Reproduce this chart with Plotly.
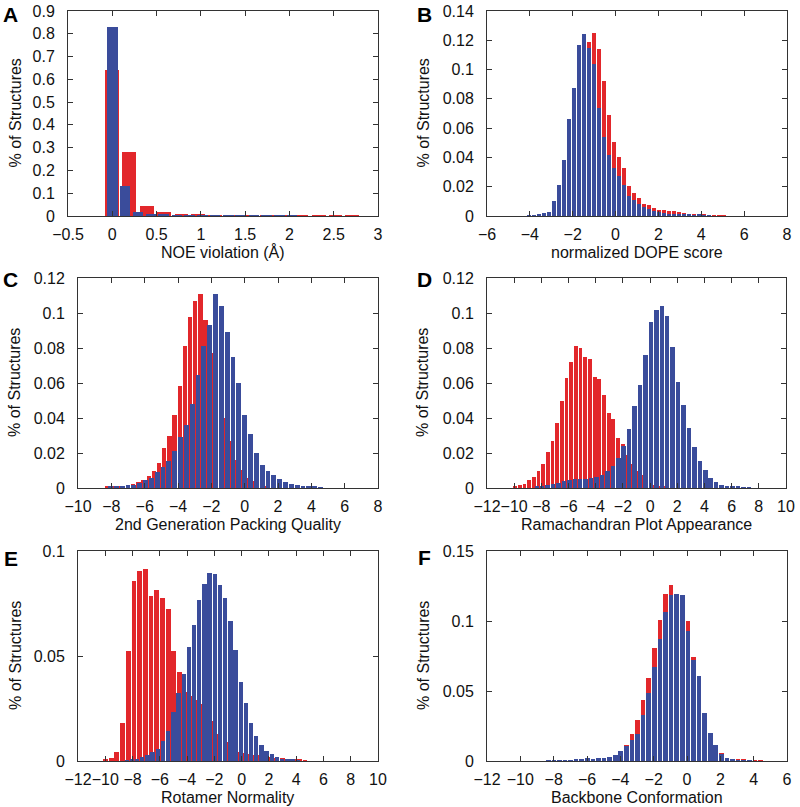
import plotly.graph_objects as go

# ---------------- data ----------------
# Panel A: NOE violation
a_red_x = [0.0, 0.19, 0.39, 0.58, 0.78, 0.97, 1.16, 1.36, 1.55, 1.75, 1.94, 2.13, 2.33, 2.52, 2.71]
a_red_y = [0.64, 0.28, 0.045, 0.017, 0.009, 0.006, 0.004, 0.003, 0.002, 0.0015, 0.0015, 0.001, 0.002, 0.002, 0.0015]
a_blue_x = [0.0, 0.145, 0.29, 0.44, 0.58, 0.73, 0.87, 1.02, 1.16, 1.31, 1.45, 1.60, 1.74, 1.89, 2.03]
a_blue_y = [0.83, 0.13, 0.017, 0.008, 0.007, 0.004, 0.003, 0.002, 0.0015, 0.001, 0.001, 0.0015, 0.0005, 0.003, 0.002]

# Panel B: normalized DOPE score (shared bins)
b_bins = [-4.05, -3.81, -3.58, -3.35, -3.11, -2.88, -2.65, -2.41, -2.18, -1.94, -1.71, -1.48, -1.24, -1.01,
          -0.77, -0.54, -0.31, -0.07, 0.16, 0.40, 0.63, 0.87, 1.10, 1.33, 1.57, 1.80, 2.04, 2.27, 2.50, 2.74,
          2.97, 3.21, 3.44, 3.67, 3.91, 4.14, 4.38, 4.61, 4.85, 5.08]
b_red_y = [0, 0, 0, 0.0005, 0.001, 0.003, 0.008, 0.016, 0.030, 0.046, 0.07, 0.096, 0.119, 0.125, 0.114,
           0.0925, 0.0687, 0.0506, 0.040, 0.033, 0.0204, 0.0154, 0.012, 0.008, 0.0073, 0.0057, 0.0043, 0.0039,
           0.0034, 0.0034, 0.0025, 0.002, 0.0017, 0.0012, 0.0008, 0.0008, 0.0006, 0.0005, 0.0005, 0.0003]
b_blue_y = [0.0004, 0.0004, 0.001, 0.002, 0.003, 0.010, 0.021, 0.0385, 0.066, 0.0875, 0.117, 0.124, 0.115,
            0.104, 0.074, 0.054, 0.042, 0.033, 0.027, 0.021, 0.0136, 0.011, 0.008, 0.0063, 0.005, 0.0036, 0.003,
            0.002, 0.0017, 0.0014, 0.0012, 0.001, 0.0008, 0.0006, 0.0008, 0.0006, 0.0003, 0, 0, 0]

# Panel C: 2nd Generation Packing Quality
c_red_x = [-8.24, -7.93, -7.62, -7.31, -7.00, -6.69, -6.38, -6.07, -5.76, -5.45, -5.14, -4.83, -4.52, -4.21,
           -3.90, -3.59, -3.28, -2.97, -2.66, -2.35, -2.04, -1.73, -1.42, -1.11, -0.80, -0.49, -0.18, 0.13,
           0.44, 0.75, 1.06, 1.37, 1.68]
c_red_y = [0.0006, 0.0008, 0.0009, 0.0012, 0.0015, 0.0022, 0.0034, 0.0048, 0.007, 0.0095, 0.0143, 0.0229,
           0.030, 0.042, 0.0585, 0.081, 0.0975, 0.107, 0.111, 0.096, 0.077, 0.063, 0.053, 0.040, 0.027, 0.016,
           0.0105, 0.0057, 0.004, 0.0025, 0.0015, 0.001, 0.0006]
c_blue_x = [-8.05, -7.70, -7.35, -7.00, -6.65, -6.30, -5.95, -5.60, -5.25, -4.90, -4.55, -4.20, -3.85, -3.50,
            -3.15, -2.80, -2.45, -2.10, -1.75, -1.40, -1.05, -0.70, -0.35, 0.0, 0.35, 0.70, 1.05, 1.40, 1.75,
            2.10, 2.45, 2.80, 3.15, 3.50, 3.85, 4.20, 4.55]
c_blue_y = [0.0008, 0.001, 0.0013, 0.0017, 0.0019, 0.003, 0.0044, 0.0057, 0.009, 0.0122, 0.0156, 0.021,
            0.0293, 0.0362, 0.048, 0.0648, 0.081, 0.0933, 0.1109, 0.104, 0.089, 0.075, 0.060, 0.042, 0.031,
            0.020, 0.0133, 0.0099, 0.0076, 0.005, 0.0032, 0.0023, 0.0017, 0.0013, 0.0009, 0.0007, 0.0004]

# Panel D: Ramachandran Plot Appearance
d_red_x = [-9.93, -9.59, -9.24, -8.90, -8.56, -8.21, -7.87, -7.52, -7.18, -6.84, -6.49, -6.15, -5.80, -5.46,
           -5.12, -4.77, -4.43, -4.08, -3.74, -3.40, -3.05, -2.71, -2.36, -2.02, -1.68, -1.33, -0.99, -0.65,
           -0.30, 0.04, 0.38, 0.73, 1.07]
d_red_y = [0.001, 0.0015, 0.0025, 0.0044, 0.0063, 0.0095, 0.0137, 0.0204, 0.027, 0.037, 0.0495, 0.0629,
           0.0718, 0.0813, 0.080, 0.0749, 0.0737, 0.0632, 0.0623, 0.053, 0.0429, 0.0396, 0.0286, 0.025, 0.019,
           0.014, 0.010, 0.0075, 0.005, 0.003, 0.002, 0.0012, 0.0008]
d_blue_x = [-8.34, -7.94, -7.54, -7.14, -6.74, -6.34, -5.94, -5.54, -5.14, -4.74, -4.34, -3.94, -3.54, -3.14,
            -2.74, -2.34, -1.94, -1.54, -1.14, -0.74, -0.34, 0.06, 0.46, 0.86, 1.26, 1.66, 2.06, 2.46, 2.86,
            3.26, 3.66, 4.06, 4.46, 4.86, 5.26, 5.66, 6.06, 6.46, 6.86, 7.26]
d_blue_y = [0.0006, 0.001, 0.0017, 0.0023, 0.0029, 0.0038, 0.0048, 0.005, 0.005, 0.0053, 0.0057, 0.0063,
            0.0076, 0.0095, 0.0128, 0.0171, 0.0238, 0.0337, 0.047, 0.059, 0.0758, 0.0947, 0.102, 0.1042,
            0.0981, 0.0806, 0.0604, 0.0474, 0.0343, 0.0234, 0.0154, 0.0101, 0.0057, 0.0034, 0.0019, 0.0013,
            0.001, 0.0008, 0.0005, 0.0003]

# Panel E: Rotamer Normality
e_red_x = [-9.99, -9.57, -9.15, -8.73, -8.31, -7.90, -7.48, -7.06, -6.64, -6.22, -5.81, -5.39, -4.97, -4.55,
           -4.13, -3.71, -3.30, -2.88, -2.46, -2.04, -1.62, -1.20, -0.79, -0.37, 0.05, 0.47, 0.89, 1.31, 1.72,
           2.14, 2.56, 2.98, 3.40, 3.82, 4.23, 4.65]
e_red_y = [0.0005, 0.0014, 0.0043, 0.0179, 0.0525, 0.0856, 0.0904, 0.0915, 0.0788, 0.0812, 0.0777, 0.0726,
           0.0526, 0.0423, 0.033, 0.031, 0.029, 0.027, 0.025, 0.019, 0.013, 0.009, 0.006, 0.0045, 0.004,
           0.0035, 0.003, 0.0028, 0.0025, 0.002, 0.0015, 0.0012, 0.001, 0.0008, 0.0005, 0.0004]
e_blue_x = [-8.43, -8.05, -7.67, -7.29, -6.91, -6.53, -6.15, -5.77, -5.39, -5.01, -4.63, -4.25, -3.87, -3.49,
            -3.11, -2.73, -2.35, -1.97, -1.59, -1.21, -0.83, -0.45, -0.07, 0.31, 0.69, 1.07, 1.45, 1.83, 2.21,
            2.59, 2.97, 3.35, 3.73, 4.11]
e_blue_y = [0.0003, 0.0006, 0.0011, 0.0018, 0.0027, 0.0043, 0.0059, 0.0094, 0.0144, 0.0234, 0.0322, 0.0415,
            0.0545, 0.0646, 0.0769, 0.0844, 0.0895, 0.0892, 0.084, 0.0775, 0.0665, 0.0528, 0.0378, 0.0278,
            0.0183, 0.012, 0.0075, 0.0048, 0.0032, 0.0021, 0.0011, 0.0008, 0.0005, 0.0003]

# Panel F: Backbone Conformation (shared bins)
f_bins = [-8.33, -7.99, -7.66, -7.32, -6.99, -6.66, -6.32, -5.99, -5.65, -5.32, -4.98, -4.65, -4.31, -3.98,
          -3.64, -3.31, -2.97, -2.64, -2.30, -1.97, -1.63, -1.30, -0.96, -0.63, -0.29, 0.05, 0.38, 0.72, 1.05,
          1.39, 1.72, 2.06, 2.39, 2.73, 3.06, 3.40, 3.73, 4.07, 4.40]
f_red_y = [0.0003, 0.0004, 0.0004, 0.0005, 0.0006, 0.0008, 0.001, 0.0015, 0.0015, 0.002, 0.002, 0.0025, 0.004,
           0.0065, 0.0117, 0.0196, 0.029, 0.0435, 0.0596, 0.0806, 0.101, 0.1196, 0.126, 0.117, 0.112, 0.0998,
           0.0746, 0.0545, 0.0332, 0.018, 0.0105, 0.0055, 0.0025, 0.0015, 0.001, 0.0008, 0.0006, 0.0004, 0.0003]
f_blue_y = [0.0002, 0.0002, 0.0003, 0.0004, 0.0005, 0.001, 0.0014, 0.0022, 0.0014, 0.0024, 0.0024, 0.0029,
            0.0045, 0.0072, 0.0105, 0.0148, 0.0196, 0.0328, 0.0483, 0.0672, 0.0873, 0.1062, 0.1189, 0.1196,
            0.1189, 0.093, 0.072, 0.0608, 0.034, 0.020, 0.0112, 0.0053, 0.0024, 0.0014, 0.0007, 0.0005, 0.0003,
            0, 0]

# tick values / labels
a_xticks = [-0.5, 0, 0.5, 1, 1.5, 2, 2.5, 3]
a_yticks = [0, 0.1, 0.2, 0.3, 0.4, 0.5, 0.6, 0.7, 0.8, 0.9]
b_xticks = [-6, -4, -2, 0, 2, 4, 6, 8]
b_yticks = [0, 0.02, 0.04, 0.06, 0.08, 0.1, 0.12, 0.14]
c_xticks = [-10, -8, -6, -4, -2, 0, 2, 4, 6, 8]
c_yticks = [0, 0.02, 0.04, 0.06, 0.08, 0.1, 0.12]
d_xticks = [-12, -10, -8, -6, -4, -2, 0, 2, 4, 6, 8, 10]
d_yticks = [0, 0.02, 0.04, 0.06, 0.08, 0.1, 0.12]
e_xticks = [-12, -10, -8, -6, -4, -2, 0, 2, 4, 6, 8, 10]
e_yticks = [0, 0.05, 0.1]
f_xticks = [-12, -10, -8, -6, -4, -2, 0, 2, 4, 6]
f_yticks = [0, 0.05, 0.1, 0.15]

x_titles = ["NOE violation (Å)", "normalized DOPE score", "2nd Generation Packing Quality",
            "Ramachandran Plot Appearance", "Rotamer Normality", "Backbone Conformation"]
y_title = "% of Structures"
letters = ["A", "B", "C", "D", "E", "F"]

# ---------------- styling / layout ----------------
W, H = 800, 807
RED = "#E2272B"
BLUE = "#3A4C9B"
FONT = "Liberation Sans, Arial, Helvetica, sans-serif"
AXC = "#333333"

panels = [
    dict(box=(68, 378, 11, 216), xr=(-0.5, 3), yr=(0, 0.9), xt=a_xticks, yt=a_yticks,
         red=(a_red_x, a_red_y, 0.155), blue=(a_blue_x, a_blue_y, 0.12)),
    dict(box=(487, 787, 11, 216), xr=(-6, 8), yr=(0, 0.14), xt=b_xticks, yt=b_yticks,
         red=(b_bins, b_red_y, 0.19), blue=(b_bins, b_blue_y, 0.19)),
    dict(box=(78, 378, 278, 488), xr=(-10, 8), yr=(0, 0.12), xt=c_xticks, yt=c_yticks,
         red=(c_red_x, c_red_y, 0.26), blue=(c_blue_x, c_blue_y, 0.29)),
    dict(box=(487, 786, 278, 488), xr=(-12, 10), yr=(0, 0.12), xt=d_xticks, yt=d_yticks,
         red=(d_red_x, d_red_y, 0.29), blue=(d_blue_x, d_blue_y, 0.33)),
    dict(box=(78, 378, 551, 761), xr=(-12, 10), yr=(0, 0.1), xt=e_xticks, yt=e_yticks,
         red=(e_red_x, e_red_y, 0.35), blue=(e_blue_x, e_blue_y, 0.32)),
    dict(box=(487, 787, 551, 761), xr=(-12, 6), yr=(0, 0.15), xt=f_xticks, yt=f_yticks,
         red=(f_bins, f_red_y, 0.28), blue=(f_bins, f_blue_y, 0.28)),
]


def fmt(v):
    s = ("%g" % v)
    return s.replace("-", "\u2212")


fig = go.Figure()
annotations = []
for i, p in enumerate(panels):
    n = "" if i == 0 else str(i + 1)
    x0, x1, y0, y1 = p["box"]
    for (xs, ys, w), col in ((p["red"], RED), (p["blue"], BLUE)):
        fig.add_trace(go.Bar(
            x=xs, y=ys, width=w, marker=dict(color=col, line=dict(width=0)),
            xaxis="x" + n, yaxis="y" + n, showlegend=False, hoverinfo="x+y"))
    common = dict(showline=True, linecolor=AXC, linewidth=1, mirror="ticks", ticks="inside",
                  ticklen=5, tickwidth=1, tickcolor=AXC, showgrid=False, zeroline=False,
                  automargin=False, tickangle=0,
                  tickfont=dict(family=FONT, size=16, color="#111"))
    fig.layout["xaxis" + n] = dict(common, domain=[x0 / W, x1 / W], anchor="y" + n,
                                    range=list(p["xr"]), tickvals=p["xt"],
                                    ticktext=[fmt(v) for v in p["xt"]], ticklabelstandoff=4)
    fig.layout["yaxis" + n] = dict(common, domain=[1 - y1 / H, 1 - y0 / H], anchor="x" + n,
                                    range=list(p["yr"]), tickvals=p["yt"],
                                    ticktext=[fmt(v) for v in p["yt"]], ticklabelstandoff=9)
    # x title
    annotations.append(dict(text=x_titles[i], x=(x0 + x1) / 2 / W, y=1 - (y1 + 36) / H,
                            xref="paper", yref="paper", showarrow=False, xanchor="center",
                            yanchor="middle", font=dict(family=FONT, size=16, color="#111")))
    # y title
    ytx = 15 if i % 2 == 0 else 423
    annotations.append(dict(text=y_title, x=ytx / W, y=1 - (y0 + y1) / 2 / H, textangle=-90,
                            xref="paper", yref="paper", showarrow=False, xanchor="center",
                            yanchor="middle", font=dict(family=FONT, size=16, color="#111")))
    # panel letter
    lx = 10.5 if i % 2 == 0 else 424
    ly = [14, 14, 280, 280, 558, 557][i]
    annotations.append(dict(text="<b>%s</b>" % letters[i], x=lx / W, y=1 - ly / H,
                            xref="paper", yref="paper", showarrow=False, xanchor="center",
                            yanchor="middle", font=dict(family=FONT, size=21, color="#000")))

fig.update_layout(width=W, height=H, margin=dict(l=0, r=0, t=0, b=0, autoexpand=False),
                  paper_bgcolor="white", plot_bgcolor="white", barmode="overlay",
                  bargap=0, annotations=annotations, showlegend=False)

fig.write_html("out.html", config={"displayModeBar": False},
               post_script="document.body.style.margin='0';document.body.style.overflow='hidden';")
